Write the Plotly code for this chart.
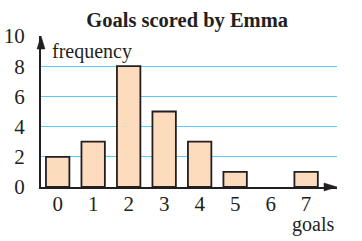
import plotly.graph_objects as go

goals = [0, 1, 2, 3, 4, 5, 6, 7]
frequency = [2, 3, 8, 5, 3, 1, 0, 1]
y_ticks = [0, 2, 4, 6, 8, 10]
title_text = "Goals scored by Emma"
x_label = "goals"
y_label = "frequency"

FONT = "Liberation Serif"
INK = "#231F20"

fig = go.Figure()
fig.add_trace(go.Bar(
    x=goals, y=frequency, width=0.66,
    marker=dict(color="#FDDBBD",
                line=dict(color=INK, width=[1.8 if v > 0 else 0 for v in frequency])),
    hoverinfo="skip",
))

W_PLOT, H_PLOT = 296, 151
shapes = [
    dict(type="path", xref="paper", yref="paper",
         path=f"M 1 0 L {1-13/W_PLOT} {4/H_PLOT} L {1-13/W_PLOT} {-4/H_PLOT} Z",
         fillcolor=INK, line=dict(color=INK, width=0.5)),
    dict(type="path", xref="paper", yref="paper",
         path=f"M 0 1 L {-4/W_PLOT} {1-13/H_PLOT} L {4/W_PLOT} {1-13/H_PLOT} Z",
         fillcolor=INK, line=dict(color=INK, width=0.5)),
]

fig.update_layout(
    width=362, height=241,
    margin=dict(l=41, r=25, t=36, b=54, autoexpand=False),
    paper_bgcolor="white", plot_bgcolor="white",
    showlegend=False,
    title=dict(text=f"<b>{title_text}</b>", x=0.517, xref="container",
               y=1 - 20/241, yanchor="middle", xanchor="center",
               font=dict(family=FONT, size=20.5, color=INK)),
    xaxis=dict(range=[-0.47, 7.87], tickvals=goals, ticktext=[str(g) for g in goals],
               showgrid=False, zeroline=False, showline=True, linecolor=INK, linewidth=2,
               ticks="", ticklabelstandoff=-3, automargin=False,
               tickfont=dict(family=FONT, size=21, color=INK), fixedrange=True),
    yaxis=dict(range=[0, 10], tickvals=y_ticks, showgrid=True, gridcolor="#5CCBF3", gridwidth=1,
               zeroline=False, showline=True, linecolor=INK, linewidth=2,
               ticks="", ticklabelstandoff=10, automargin=False,
               tickfont=dict(family=FONT, size=21, color=INK), fixedrange=True),
    shapes=shapes,
    annotations=[
        dict(text=y_label, xref="paper", yref="paper", x=0.03, y=0.90,
             xanchor="left", yanchor="middle", showarrow=False,
             font=dict(family=FONT, size=20, color=INK)),
        dict(text=x_label, xref="paper", yref="paper", x=0.919, y=-0.247,
             xanchor="center", yanchor="middle", showarrow=False,
             font=dict(family=FONT, size=20, color=INK)),
    ],
)

fig.write_html("out.html")
